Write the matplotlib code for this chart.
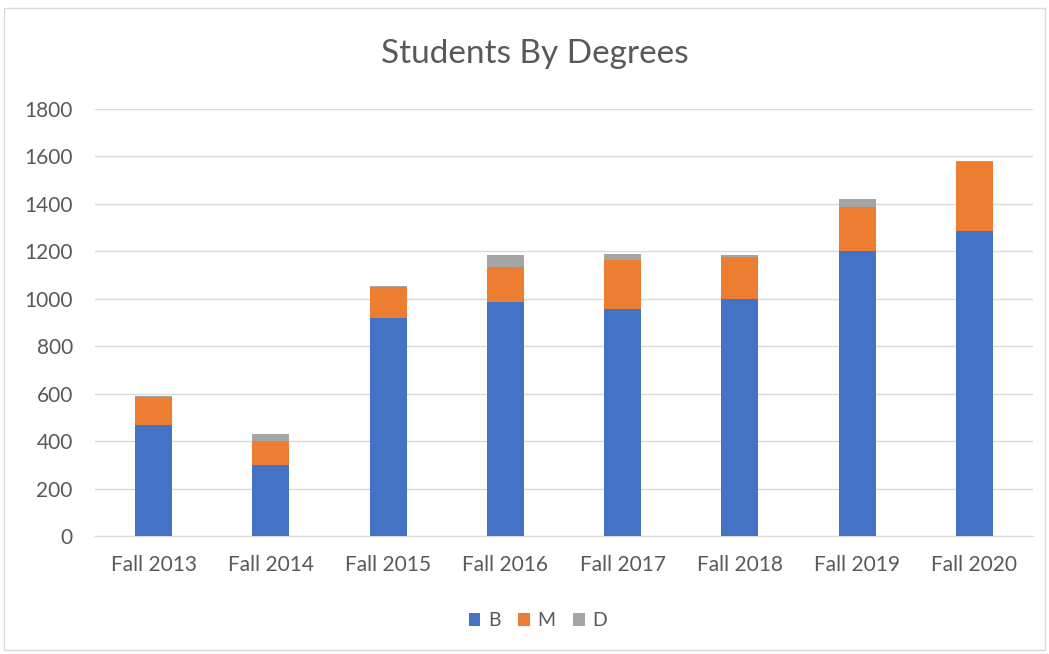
import matplotlib
matplotlib.use("Agg")
import matplotlib.pyplot as plt
from matplotlib.patches import Rectangle
import numpy as np

categories = ["Fall 2013", "Fall 2014", "Fall 2015", "Fall 2016",
              "Fall 2017", "Fall 2018", "Fall 2019", "Fall 2020"]
B = [470, 300, 920, 985, 955, 1000, 1200, 1285]
M = [118, 100, 130, 150, 210, 175, 185, 292]
D = [3, 28, 5, 50, 25, 8, 35, 5]
series_names = ["B", "M", "D"]
colors = ["#4472C4", "#ED7D31", "#A5A5A5"]
yticks = [0, 200, 400, 600, 800, 1000, 1200, 1400, 1600, 1800]

plt.rcParams['font.family'] = ['Lato', 'DejaVu Sans']

fig = plt.figure(figsize=(10.49, 6.54), dpi=100)
fig.patches.append(Rectangle((0.004, 0.006), 0.992, 0.982, transform=fig.transFigure,
                             fill=False, edgecolor="#D9D9D9", linewidth=1))
ax = fig.add_axes([95/1049, 118/654, 938/1049, 427/654])

x = np.arange(len(categories))
w = 0.317
bottom = np.zeros(len(categories))
handles = []
for name, vals, c in zip(series_names, [B, M, D], colors):
    h = ax.bar(x, vals, w, bottom=bottom, color=c, label=name, zorder=3)
    handles.append(h)
    bottom += np.array(vals)

ax.set_xlim(-0.5, len(categories) - 0.5)
ax.set_ylim(0, 1800)
ax.set_yticks(yticks)
ax.set_yticklabels([str(t) for t in yticks])
ax.set_xticks(x)
ax.set_xticklabels(categories)
ax.grid(axis="y", color="#D9D9D9", linewidth=1, zorder=0)
for s in ["top", "right", "left"]:
    ax.spines[s].set_visible(False)
ax.spines["bottom"].set_color("#D9D9D9")
ax.tick_params(axis="both", length=0, colors="#595959", labelsize=15)
ax.tick_params(axis="y", pad=16)
ax.tick_params(axis="x", pad=14)

fig.text(535/1049, 1 - 54/654, "Students By Degrees", ha="center", va="center",
         fontsize=24, color="#595959")

fig.legend(handles=handles, labels=series_names, loc="center",
           bbox_to_anchor=(538/1049, 1 - 621/654), ncol=3, frameon=False,
           fontsize=14, handlelength=0.6, handleheight=0.6, handletextpad=0.4,
           columnspacing=0.9, labelcolor="#595959")

fig.savefig("out.png", dpi=100)
